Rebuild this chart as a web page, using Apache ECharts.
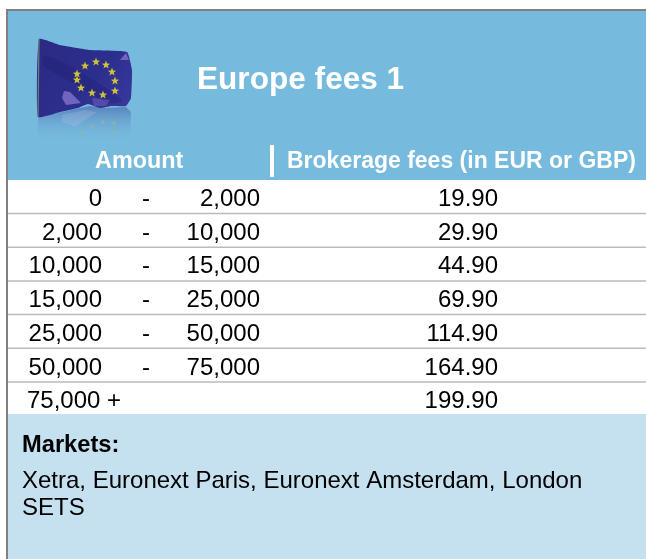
<!DOCTYPE html>
<html lang="en" style="height: 100%">
<head>
    <meta charset="utf-8">
    <title>Europe fees 1</title>
    <script src="https://cdn.jsdelivr.net/npm/echarts@6/dist/echarts.min.js"></script>
    <style>
        html, body { margin: 0; padding: 0; background: #fff; }
        #main { width: 646px; height: 559px; }
    </style>
</head>
<body>
<div id="main"></div>
<script type="text/javascript">
    var title = 'Europe fees 1';
    var amountHeader = 'Amount';
    var feeHeader = 'Brokerage fees (in EUR or GBP)';
    var amountFrom = [0, 2000, 10000, 15000, 25000, 50000, 75000];
    var amountTo = [2000, 10000, 15000, 25000, 50000, 75000, null];
    var fees = [19.90, 29.90, 44.90, 69.90, 114.90, 164.90, 199.90];
    var marketsTitle = 'Markets:';
    var marketsLines = ['Xetra, Euronext Paris, Euronext Amsterdam, London', 'SETS'];

    var FONT = '"Liberation Sans", Arial, sans-serif';
    var BLUE = '#76bade';
    var PALE = '#c5e0ef';
    var TEXT = '#000';

    function money(v) {
        return v.toLocaleString('en-US');
    }

    // stars of the flag picture
    var starSpots = [[85, 66], [96, 62], [106, 65], [112, 72], [115, 81], [115, 91], [103, 95], [92, 93], [81, 88], [77, 80], [77, 74]];
    var reflectedStars = [[81, 133], [92, 127], [103, 122], [114, 123], [114, 133]];

    // graphic has no star shape, so build one as a polygon
    function star(x, y, r, fill, opacity) {
        var points = [];
        for (var k = 0; k < 10; k++) {
            var a = -Math.PI / 2 + k * Math.PI / 5;
            var d = k % 2 ? r * 0.42 : r;
            points.push([x + d * Math.cos(a), y + d * Math.sin(a)]);
        }
        return {
            type: 'polygon',
            z: 4,
            shape: { points: points },
            style: { fill: fill, opacity: opacity }
        };
    }

    function flagParts() {
        var parts = [
            // reflection under the flag
            {
                type: 'polygon',
                z: 2,
                shape: { points: [[38, 117], [62, 112], [80, 108], [90, 106], [105, 108], [126, 107], [131, 112], [130, 142], [38, 142]] },
                style: {
                    fill: new echarts.graphic.LinearGradient(0, 0, 0, 1, [
                        { offset: 0, color: 'rgba(70,90,165,0.6)' },
                        { offset: 1, color: 'rgba(118,186,222,0)' }
                    ])
                }
            },
            {
                type: 'polygon',
                z: 3,
                shape: { points: [[62, 115], [85, 110], [97, 112], [75, 127], [62, 122]] },
                style: { fill: 'rgba(190,200,235,0.22)' }
            },
            // flag cloth
            {
                type: 'polygon',
                z: 3,
                shape: { smooth: 0.12, points: [[39, 39], [60, 45], [90, 50], [127, 52], [132, 70], [131, 98], [126, 106], [112, 106], [100, 108], [88, 104], [78, 108], [60, 112], [38, 117]] },
                style: {
                    fill: new echarts.graphic.LinearGradient(0, 0, 1, 1, [
                        { offset: 0, color: '#2c2a82' },
                        { offset: 0.55, color: '#2c2e8e' },
                        { offset: 1, color: '#3b3aa0' }
                    ])
                }
            },
            // dark fold and lighter patches
            {
                type: 'polygon',
                z: 3,
                shape: { smooth: 0.3, points: [[45, 55], [80, 72], [122, 100], [108, 103], [75, 84], [44, 66]] },
                style: { fill: 'rgba(30,25,105,0.3)' }
            },
            {
                type: 'polygon',
                z: 3,
                shape: { points: [[64, 91], [70, 92], [81, 103], [66, 105], [62, 98]] },
                style: { fill: 'rgba(125,110,200,0.85)' }
            },
            {
                type: 'polygon',
                z: 3,
                shape: { points: [[120, 60], [126, 53], [129, 60]] },
                style: { fill: 'rgba(125,110,200,0.85)' }
            },
            {
                type: 'polygon',
                z: 3,
                shape: { points: [[92, 98], [110, 100], [106, 106], [94, 106]] },
                style: { fill: 'rgba(110,95,185,0.55)' }
            },
            // pole
            {
                type: 'line',
                z: 4,
                shape: { x1: 39, y1: 39, x2: 38, y2: 117 },
                style: { stroke: '#6f7f78', lineWidth: 1.2 }
            }
        ];
        starSpots.forEach(function (s) {
            parts.push(star(s[0], s[1], 4.4, '#cfc23a', 1));
        });
        reflectedStars.forEach(function (s) {
            parts.push(star(s[0], s[1], 3.2, '#a9bd78', 0.45));
        });
        return parts;
    }

    var panels = [
        { type: 'rect', z: 1, shape: { x: 7, y: 11, width: 639, height: 169 }, style: { fill: BLUE } },
        { type: 'rect', z: 1, shape: { x: 7, y: 414, width: 639, height: 145 }, style: { fill: PALE } },
        { type: 'rect', z: 5, shape: { x: 6, y: 9, width: 640, height: 2 }, style: { fill: '#808080' } },
        { type: 'rect', z: 5, shape: { x: 6, y: 9, width: 2, height: 550 }, style: { fill: '#808080' } },
        { type: 'rect', z: 5, shape: { x: 270, y: 145, width: 4, height: 32 }, style: { fill: '#fff' } }
    ];

    function label(text, x, y, size, weight, fill, align) {
        return {
            type: 'text',
            z: 6,
            style: {
                text: text, x: x, y: y, fill: fill, align: align || 'left', verticalAlign: 'middle',
                font: (weight || 'normal') + ' ' + size + 'px ' + FONT
            }
        };
    }

    var labels = [
        label(title, 197, 80, 31.6, 'bold', '#fff'),
        label(amountHeader, 95, 162, 23.4, 'bold', '#fff'),
        label(feeHeader, 287, 162, 23, 'bold', '#fff'),
        label(marketsTitle, 22, 445, 23.7, 'bold', TEXT),
        label(marketsLines[0], 22, 481, 24, 'normal', TEXT),
        label(marketsLines[1], 22, 508, 24, 'normal', TEXT)
    ];

    function renderRow(params, api) {
        var i = api.value(0);
        var c = api.coord([0, i]);
        var band = api.size([0, 1])[1];
        var y = c[1];
        var cell = function (text, x, align) {
            return {
                type: 'text',
                style: {
                    text: text, x: x, y: y + 2.5, fill: TEXT, align: align, verticalAlign: 'middle',
                    font: 'normal 24px ' + FONT
                }
            };
        };
        var children = [];
        if (amountTo[i] === null) {
            children.push(cell(money(amountFrom[i]) + ' +', 27, 'left'));
        } else {
            children.push(cell(money(amountFrom[i]), 102, 'right'));
            children.push(cell('-', 146, 'center'));
            children.push(cell(money(amountTo[i]), 260, 'right'));
        }
        children.push(cell(fees[i].toFixed(2), 498, 'right'));
        if (i < fees.length - 1) {
            children.push({
                type: 'rect',
                shape: { x: 8, y: y + band / 2 - 1, width: 638, height: 1.5 },
                style: { fill: '#bbbbbb' }
            });
        }
        return { type: 'group', children: children };
    }

    var chart = echarts.init(document.getElementById('main'), null, { renderer: 'canvas' });
    var option = {
        animation: false,
        backgroundColor: '#fff',
        grid: { left: 0, right: 0, top: 180, height: 236 },
        xAxis: { type: 'value', min: 0, max: 646, show: false },
        yAxis: {
            type: 'category',
            inverse: true,
            show: false,
            data: fees.map(function (f, i) { return i; })
        },
        graphic: { elements: panels.concat(flagParts(), labels) },
        series: [{
            type: 'custom',
            renderItem: renderRow,
            encode: { x: 1, y: 0 },
            data: fees.map(function (f, i) { return [i, f]; }),
            clip: false,
            silent: true
        }]
    };
    chart.setOption(option);
</script>
</body>
</html>
